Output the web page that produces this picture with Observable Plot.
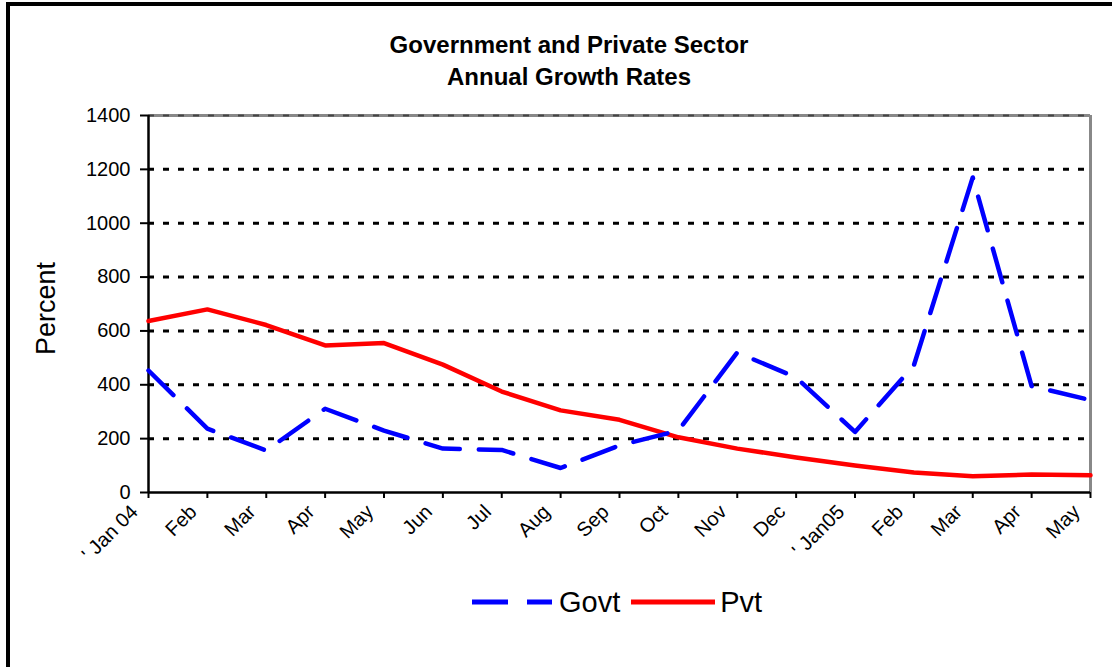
<!DOCTYPE html>
<html>
<head>
<meta charset="utf-8">
<script src="https://cdn.jsdelivr.net/npm/d3@7"></script>
<script src="https://cdn.jsdelivr.net/npm/@observablehq/plot@0.6"></script>
<style>
  html, body { margin: 0; padding: 0; background: #fff; }
  #wrap { position: relative; width: 1112px; height: 667px; overflow: hidden; font-family: Arial, "Liberation Sans", sans-serif; color: #000; }
  #border { position: absolute; left: 6px; top: 2px; right: -10px; bottom: -10px; border-left: 4px solid #000; border-top: 4px solid #000; }
  #title { position: absolute; left: 269px; top: 29px; width: 600px; text-align: center; font-weight: bold; font-size: 24px; line-height: 32px; }
  #chart { position: absolute; left: 0; top: 100px; }
  #legend { position: absolute; left: 472px; top: 584px; display: flex; align-items: center; font-size: 29px; height: 36px; }
  #legend svg { display: block; }
</style>
</head>
<body>
<div id="wrap">
  <div id="border"></div>
  <div id="title">Government and Private Sector<br>Annual Growth Rates</div>
  <div id="chart"></div>
  <div id="legend"></div>
</div>
<script>
// ---- data ----
const months = ["' Jan 04", "Feb", "Mar", "Apr", "May", "Jun", "Jul", "Aug", "Sep", "Oct", "Nov", "Dec", "' Jan05", "Feb", "Mar", "Apr", "May"];
const govt = [453, 237, 156, 311, 230, 163, 158, 91, 175, 230, 520, 427, 225, 472, 1170, 395, 343];
const pvt = [637, 680, 622, 546, 555, 475, 375, 305, 270, 205, 163, 130, 100, 74, 60, 67, 64];
const yTicks = [0, 200, 400, 600, 800, 1000, 1200, 1400];
const gridTicks = [200, 400, 600, 800, 1000, 1200];
const topTick = [1400];
const seriesNames = ["Govt", "Pvt"];
const seriesColors = ["#0000ff", "#ff0000"];

const rows = months.map((m, i) => ({i, month: m, govt: govt[i], pvt: pvt[i]}));
const idx = d3.range(months.length);

const chart = Plot.plot({
  width: 1112,
  height: 480,
  marginLeft: 148,
  marginRight: 22,
  marginTop: 15,
  marginBottom: 88,
  style: {fontFamily: 'Arial, "Liberation Sans", sans-serif', color: "#000", background: "transparent"},
  x: {domain: [0, months.length - 1], axis: null},
  y: {domain: [0, 1400], axis: null},
  marks: [
    // gray plot frame (top & right)
    Plot.ruleY(topTick, {stroke: "#888", strokeWidth: 3}),
    Plot.ruleY(topTick, {stroke: "#444", strokeWidth: 2, strokeDasharray: "6,9"}),
    Plot.ruleX([months.length - 1], {stroke: "#888", strokeWidth: 3}),
    // dotted gridlines
    Plot.ruleY(gridTicks, {stroke: "#000", strokeWidth: 3, strokeDasharray: "6,9"}),
    // axes
    Plot.axisY({ticks: yTicks, tickFormat: d => String(d), tickSize: 8, tickPadding: 10, fontSize: 20, strokeWidth: 2, label: null}),
    // x tick marks only
    Plot.axisX({ticks: idx, tickSize: 6, strokeWidth: 2, fill: "none", label: null}),
    // x tick labels only, rotated
    Plot.axisX({ticks: idx, tickFormat: i => months[i], tickRotate: -45, tickSize: 0, tickPadding: 12, fontSize: 20, label: null, dx: -14, dy: 4}),
    Plot.ruleX([0], {stroke: "#000", strokeWidth: 2.5}),
    Plot.ruleY([0], {stroke: "#000", strokeWidth: 2.5}),
    // series
    Plot.lineY(rows, {x: "i", y: "pvt", stroke: seriesColors[1], strokeWidth: 4.5}),
    Plot.lineY(rows, {x: "i", y: "govt", stroke: seriesColors[0], strokeWidth: 4.5, strokeDasharray: "35,19"}),
    // y label
    Plot.text(["Percent"], {frameAnchor: "left", dx: -102, dy: 51, rotate: -90, fontSize: 27})
  ]
});
document.getElementById("chart").appendChild(chart);

// legend
const legend = document.getElementById("legend");
seriesNames.forEach((name, k) => {
  const sw = document.createElementNS("http://www.w3.org/2000/svg", "svg");
  sw.setAttribute("width", k === 0 ? 80 : 84);
  sw.setAttribute("height", 20);
  const ln = document.createElementNS("http://www.w3.org/2000/svg", "line");
  ln.setAttribute("x1", 0); ln.setAttribute("x2", k === 0 ? 80 : 84);
  ln.setAttribute("y1", 10); ln.setAttribute("y2", 10);
  ln.setAttribute("stroke", seriesColors[k]);
  ln.setAttribute("stroke-width", 5);
  if (k === 0) ln.setAttribute("stroke-dasharray", "36,19");
  else ln.setAttribute("stroke-linecap", "round");
  sw.appendChild(ln);
  const lab = document.createElement("span");
  lab.textContent = name;
  lab.style.marginLeft = k === 0 ? "7px" : "5px";
  lab.style.marginRight = k === 0 ? "11px" : "0";
  legend.appendChild(sw);
  legend.appendChild(lab);
});
</script>
</body>
</html>
